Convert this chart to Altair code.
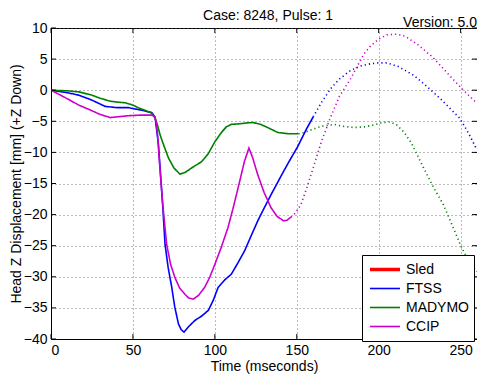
import altair as alt
import pandas as pd

series_names = ["Sled", "FTSS", "MADYMO", "CCIP"]
series_colors = ["#ff0000", "#0000ff", "#008000", "#cc00cc"]
series_widths = [3.5, 1.6, 1.6, 1.6]

ftss_solid_x = [0, 10, 17, 25, 33, 40, 47, 55, 61.5, 63.5, 65.6, 68, 69.6, 71.5, 73.7, 75.5, 77.8, 79.5, 81.2, 84, 87.9, 92, 96, 99, 102, 106, 110, 114, 118.2, 122, 126.2, 130, 134.3, 140, 145, 150.5, 156, 160]
ftss_solid_y = [0, -0.4, -0.8, -1.6, -2.6, -2.8, -2.8, -3.2, -3.6, -4.3, -8.8, -17.8, -24.8, -28.5, -31.7, -34.8, -37.6, -38.5, -38.9, -38, -37, -36.3, -35.4, -33.8, -31.7, -30.5, -29.6, -27.8, -25.8, -23.5, -21, -19, -16.8, -14, -11.6, -9.1, -6.2, -4.3]
ftss_dot_x = [160, 165, 170.7, 176, 183, 189, 195, 200, 205, 212, 221.3, 229, 237.4, 243, 249.5, 255, 260]
ftss_dot_y = [-4.3, -2.0, 0.25, 1.8, 3.2, 3.9, 4.25, 4.4, 4.4, 3.8, 2.4, 0.7, -1.3, -2.8, -4.5, -7.0, -9.6]

mady_solid_x = [0, 10, 17, 25, 30, 36.2, 40, 45.4, 50, 53.4, 58, 61.5, 63.5, 65, 66.6, 69, 71.7, 75, 78.7, 82, 85.8, 91.9, 96, 100, 104, 107, 110, 115, 120, 123.2, 128, 133, 138.4, 145, 151]
mady_solid_y = [0, -0.1, -0.27, -0.8, -1.3, -1.77, -1.9, -2.03, -2.4, -2.83, -3.3, -3.7, -4.5, -5.6, -7.2, -9.0, -10.9, -12.5, -13.5, -13.2, -12.5, -11.5, -10.2, -8.3, -6.8, -5.9, -5.5, -5.4, -5.25, -5.2, -5.5, -6.1, -6.8, -7.0, -7.0]
mady_dot_x = [151, 155, 158.6, 165, 172.8, 178, 184.9, 191, 197, 202, 207, 211, 215.3, 220, 227.4, 233, 239.5, 245, 250.6, 255, 260]
mady_dot_y = [-7.0, -6.8, -6.4, -5.8, -5.5, -5.8, -6.0, -5.9, -5.6, -5.2, -5.1, -5.6, -6.7, -8.5, -12.5, -15.4, -18.4, -21.8, -25.3, -27.5, -29.2]

ccip_solid_x = [0, 8, 17, 25, 30, 36.2, 40, 47.4, 55, 61.5, 63, 64, 65, 66, 68, 70.6, 73, 75.6, 78.5, 81.7, 84, 86.7, 90, 93.8, 97, 100, 104, 108, 111.5, 115.2, 118, 120.8, 123, 126.2, 130, 134.3, 138, 142, 144, 146.5]
ccip_solid_y = [0, -1.1, -2.4, -3.3, -3.9, -4.4, -4.3, -4.1, -4.0, -4.0, -4.2, -4.8, -7, -10.9, -17.8, -24.8, -28, -30.1, -31.8, -32.8, -33.4, -33.6, -33, -31.7, -30, -28, -25.2, -22.1, -18.6, -14.6, -11.5, -9.3, -10.8, -13.6, -16.4, -18.9, -20.3, -21, -20.9, -20.4]
ccip_dot_x = [146.5, 149, 152.5, 156, 160.6, 165, 170.7, 176, 183, 187, 191, 195, 200, 205, 211, 216, 224, 233, 240, 247, 254, 260]
ccip_dot_y = [-20.4, -19.8, -18.4, -15.8, -12, -8.3, -4.3, -1.0, 1.9, 3.9, 5.8, 7.1, 8.2, 8.9, 9.0, 8.7, 7.3, 5.3, 3.3, 1.3, -0.6, -2.1]

x_ticks = [0, 50, 100, 150, 200, 250]
y_ticks = list(range(-40, 11, 5))

W, H = 426, 311

rows = []
def add(name, style, xs, ys):
    for i, (a, b) in enumerate(zip(xs, ys)):
        rows.append({"series": name, "style": style, "t": a, "z": b, "i": i})

add("FTSS", "solid", ftss_solid_x, ftss_solid_y)
add("FTSS", "dotted", ftss_dot_x, ftss_dot_y)
add("MADYMO", "solid", mady_solid_x, mady_solid_y)
add("MADYMO", "dotted", mady_dot_x, mady_dot_y)
add("CCIP", "solid", ccip_solid_x, ccip_solid_y)
add("CCIP", "dotted", ccip_dot_x, ccip_dot_y)
df = pd.DataFrame(rows)

FONT = "Liberation Sans"

legend_kw = dict(title=None, orient="none", legendX=311, legendY=227,
                 symbolType="M-1.5,0H1.5", symbolSize=400, clipHeight=19,
                 symbolOffset=6,
                 labelFontSize=14, labelFont=FONT, labelColor="black",
                 fillColor="white", strokeColor="black", padding=5,
                 rowPadding=0, labelOffset=9)

xscale = alt.Scale(domain=[0, 260], nice=False)
yscale = alt.Scale(domain=[-40, 10], nice=False)
x_axis = alt.Axis(title="Time (mseconds)", values=x_ticks)
y_axis = alt.Axis(title="Head Z Displacement [mm] (+Z Down)", values=y_ticks,
                  titleX=-28, titleY=H / 2, titleAngle=270, titleBaseline="bottom", titleAlign="center")

lines = alt.Chart(df).mark_line(clip=True).encode(
    x=alt.X("t:Q", scale=xscale, axis=x_axis),
    y=alt.Y("z:Q", scale=yscale, axis=y_axis),
    color=alt.Color("series:N", scale=alt.Scale(domain=series_names, range=series_colors),
                    legend=alt.Legend(**legend_kw)),
    strokeWidth=alt.StrokeWidth("series:N", scale=alt.Scale(type="ordinal", domain=series_names, range=series_widths),
                                legend=alt.Legend(**legend_kw)),
    strokeDash=alt.StrokeDash("style:N", scale=alt.Scale(domain=["solid", "dotted"], range=[[1, 0], [1.2, 3]]),
                              legend=None),
    detail="style:N",
    order="i:Q",
)

xt = pd.DataFrame({"t": x_ticks})
yt = pd.DataFrame({"z": y_ticks})
tick_style = dict(color="black", strokeWidth=1)
ticks_bottom = alt.Chart(xt).mark_rule(**tick_style).encode(
    x=alt.X("t:Q", scale=xscale, axis=x_axis), y=alt.value(H), y2=alt.value(H - 5))
ticks_top = alt.Chart(xt).mark_rule(**tick_style).encode(
    x=alt.X("t:Q", scale=xscale, axis=x_axis), y=alt.value(0), y2=alt.value(5))
ticks_left = alt.Chart(yt).mark_rule(**tick_style).encode(
    y=alt.Y("z:Q", scale=yscale, axis=y_axis), x=alt.value(0), x2=alt.value(5))
ticks_right = alt.Chart(yt).mark_rule(**tick_style).encode(
    y=alt.Y("z:Q", scale=yscale, axis=y_axis), x=alt.value(W), x2=alt.value(W - 5))

texts = alt.Chart(pd.DataFrame({"txt": ["Version: 5.0"]})).mark_text(
    align="right", baseline="alphabetic", fontSize=14, font=FONT, color="black"
).encode(text="txt:N", x=alt.value(W), y=alt.value(-1))

title = alt.Chart(pd.DataFrame({"txt": ["Case: 8248, Pulse: 1"]})).mark_text(
    align="center", baseline="alphabetic", fontSize=14, font=FONT, color="black"
).encode(text="txt:N", x=alt.value(W / 2 + 4), y=alt.value(-8))

chart = alt.layer(lines, ticks_bottom, ticks_top, ticks_left, ticks_right, texts, title).properties(
    width=W, height=H,
    autosize=alt.AutoSizeParams(type="none"),
    padding={"left": 43, "top": 20, "right": 0, "bottom": 36},
).configure_view(stroke="black", strokeWidth=1).configure_axis(
    labelFont=FONT, titleFont=FONT, labelFontSize=14, titleFontSize=14,
    labelColor="black", titleColor="black", titleFontWeight="normal",
    domainColor="black", ticks=False, labelPadding=4,
    gridColor="#555555", gridDash=[1, 3], gridWidth=1, gridOpacity=0.8,
).configure_axisX(titlePadding=2)

chart.save("out.html", embed_options={"renderer": "svg", "actions": False})
